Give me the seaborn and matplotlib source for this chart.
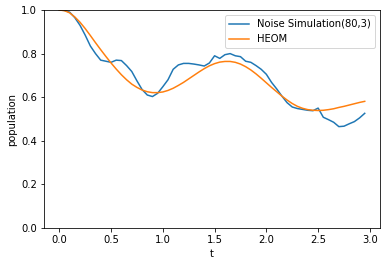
import matplotlib
matplotlib.use("Agg")
import matplotlib.pyplot as plt
import seaborn as sns
import pandas as pd

t = [round(0.05 * i, 2) for i in range(60)]

noise_sim = [1.0, 0.998, 0.99, 0.965, 0.93, 0.885, 0.835, 0.80, 0.77, 0.765,
             0.76, 0.77, 0.768, 0.745, 0.718, 0.675, 0.635, 0.61, 0.603, 0.618,
             0.648, 0.68, 0.728, 0.748, 0.755, 0.755, 0.752, 0.748, 0.743, 0.757,
             0.79, 0.778, 0.795, 0.80, 0.79, 0.786, 0.765, 0.76, 0.745, 0.728,
             0.705, 0.668, 0.638, 0.605, 0.575, 0.555, 0.548, 0.544, 0.54, 0.538,
             0.55, 0.508, 0.497, 0.485, 0.465, 0.467, 0.478, 0.488, 0.505, 0.526]

heom = [1.0, 0.997, 0.987, 0.968, 0.944, 0.915, 0.883, 0.85, 0.818, 0.787,
        0.757, 0.729, 0.703, 0.68, 0.66, 0.645, 0.633, 0.625, 0.621, 0.621,
        0.624, 0.631, 0.641, 0.654, 0.668, 0.684, 0.70, 0.716, 0.731, 0.744,
        0.754, 0.761, 0.764, 0.764, 0.76, 0.752, 0.74, 0.725, 0.707, 0.687,
        0.666, 0.645, 0.625, 0.605, 0.587, 0.571, 0.558, 0.549, 0.543, 0.54,
        0.539, 0.54, 0.543, 0.547, 0.553, 0.558, 0.564, 0.57, 0.576, 0.581]

labels = ["Noise Simulation(80,3)", "HEOM"]

df = pd.concat([
    pd.DataFrame({"t": t, "population": noise_sim, "series": labels[0]}),
    pd.DataFrame({"t": t, "population": heom, "series": labels[1]}),
])

W, H = 386, 266
fig = plt.figure(figsize=(W / 72, H / 72), dpi=72)
ax = fig.add_axes([44 / W, (H - 228) / H, (380 - 44) / W, (228 - 10) / H])

sns.lineplot(data=df, x="t", y="population", hue="series",
             palette=["#1f77b4", "#ff7f0e"], linewidth=1.5, ax=ax)

ax.set_ylim(0, 1.0)
ax.set_yticks([0.0, 0.2, 0.4, 0.6, 0.8, 1.0])
ax.set_xlabel("t")
ax.set_ylabel("population")
ax.legend(title=None, loc="upper right")

fig.savefig("out.png", dpi=72)
